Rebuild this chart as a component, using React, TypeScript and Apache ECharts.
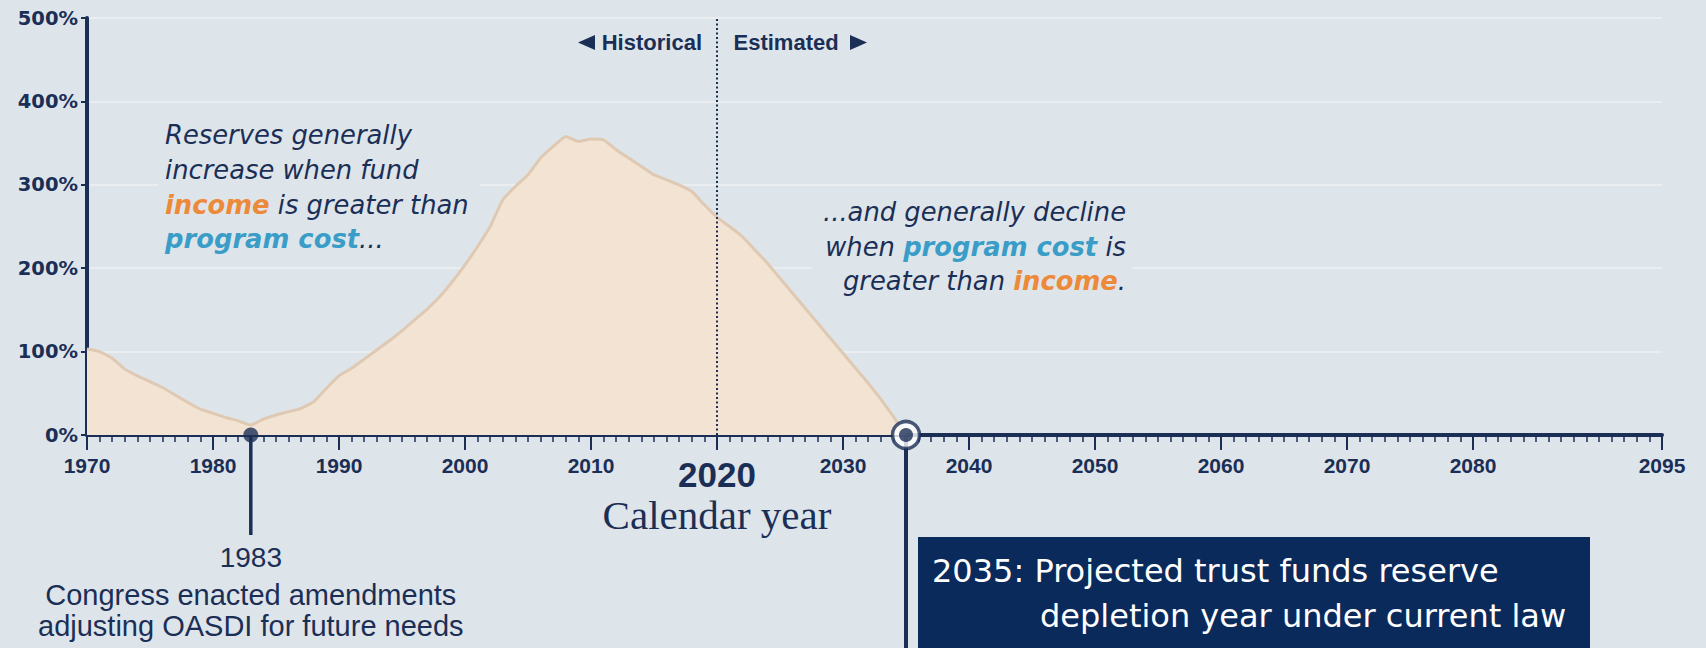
import { useEffect, useRef } from "react";
import * as echarts from "echarts";

// OASDI trust fund reserve ratio (reserves as % of annual program cost)
const years = [
  1970, 1971, 1972, 1973, 1974, 1975, 1976, 1977, 1978, 1979,
  1980, 1981, 1982, 1983, 1984, 1985, 1986, 1987, 1988, 1989,
  1990, 1991, 1992, 1993, 1994, 1995, 1996, 1997, 1998, 1999,
  2000, 2001, 2002, 2003, 2004, 2005, 2006, 2007, 2008, 2009,
  2010, 2011, 2012, 2013, 2014, 2015, 2016, 2017, 2018, 2019,
  2020, 2021, 2022, 2023, 2024, 2025, 2026, 2027, 2028, 2029,
  2030, 2031, 2032, 2033, 2034, 2035,
];
const reserveRatio = [
  103, 100, 92, 79, 71, 64, 57, 48, 39, 31,
  26, 21, 17, 12, 19, 24, 28, 32, 40, 56,
  71, 80, 91, 102, 113, 125, 138, 151, 166, 184,
  204, 226, 250, 282, 298, 312, 332, 346, 358, 352,
  355, 354, 342, 332, 322, 312, 306, 300, 292, 276,
  261, 250, 238, 222, 206, 188, 170, 152, 134, 116,
  98, 80, 62, 43, 22, 0,
];
const xLabelYears = [1970, 1980, 1990, 2000, 2010, 2020, 2030, 2040, 2050, 2060, 2070, 2080, 2095];
const yMin = 0;
const yMax = 500;
const yStep = 100;
const dividerYear = 2020;
const amendmentYear = 1983;
const depletionYear = 2035;

const BG = "#dee5ea";
const NAVY = "#1b2f56";
const BOX = "#0b2a5c";
const GRID = "#eaeef1";
const AREA = "#f2e3d3";
const AREA_LINE = "#dfc9b3";
const ORANGE = "#ec8a3a";
const BLUE = "#3a9dc8";
const SANS = "'Liberation Sans', Arial, Helvetica, sans-serif";
const WIDE = "'DejaVu Sans', Verdana, sans-serif";
const SERIF = "'Liberation Serif', 'Times New Roman', serif";
const NOTE_SIZE = 25.8;

export default function App() {
  const ref = useRef<HTMLDivElement>(null);

  useEffect(() => {
    document.body.style.margin = "0";
    document.body.style.background = BG;
    const chart = echarts.init(ref.current!, null, { renderer: "svg" });

    chart.setOption({
      animation: false,
      backgroundColor: BG,
      grid: { left: 87, right: 44, top: 18, bottom: 213, containLabel: false },
      xAxis: [
        {
          type: "value",
          min: 1970,
          max: 2095,
          position: "bottom",
          axisLine: { show: true, onZero: false, lineStyle: { color: NAVY, width: 4 } },
          axisTick: {
            show: true,
            customValues: xLabelYears,
            length: 15,
            lineStyle: { color: NAVY, width: 2 },
          },
          axisLabel: {
            customValues: xLabelYears,
            margin: 20,
            color: NAVY,
            fontFamily: SANS,
            fontSize: 21,
            fontWeight: "bold",
            formatter: (v: number) => (v === dividerYear ? "{big|" + v + "}" : String(v)),
            rich: {
              big: {
                fontSize: 35,
                fontWeight: "bold",
                fontFamily: SANS,
                color: NAVY,
                padding: [2, 0, 0, 0],
              },
            },
          },
          splitLine: { show: false },
        },
        {
          type: "value",
          min: 1970,
          max: 2095,
          interval: 1,
          position: "bottom",
          axisLine: { show: false },
          axisTick: { show: true, length: 7, lineStyle: { color: NAVY, width: 1.5 } },
          axisLabel: { show: false },
          splitLine: { show: false },
        },
      ],
      yAxis: {
        type: "value",
        min: yMin,
        max: yMax,
        interval: yStep,
        axisLine: { show: true, lineStyle: { color: NAVY, width: 4 } },
        axisTick: { show: true, length: 6, lineStyle: { color: NAVY, width: 2 } },
        axisLabel: {
          formatter: "{value}%",
          margin: 9,
          color: NAVY,
          fontFamily: WIDE,
          fontSize: 19.5,
          fontWeight: "bold",
        },
        splitLine: { show: true, lineStyle: { color: GRID, width: 2 } },
      },
      series: [
        {
          type: "line",
          data: years.map((y, i) => [y, reserveRatio[i]]),
          symbol: "none",
          smooth: 0.15,
          lineStyle: { color: AREA_LINE, width: 3 },
          areaStyle: { color: AREA, opacity: 1 },
          z: 2,
          markLine: {
            silent: true,
            symbol: ["none", "none"],
            label: { show: false },
            lineStyle: { color: NAVY, width: 2, type: [2, 2.5] },
            data: [[{ coord: [dividerYear, yMin] }, { coord: [dividerYear, yMax] }]],
          },
        },
        {
          type: "scatter",
          data: [[amendmentYear, 0]],
          symbolSize: 15,
          clip: false,
          itemStyle: { color: NAVY },
          z: 5,
        },
        {
          type: "scatter",
          data: [[depletionYear, 0]],
          symbolSize: 27,
          clip: false,
          itemStyle: { color: "#ffffff", borderColor: NAVY, borderWidth: 3.5 },
          z: 5,
        },
        {
          type: "scatter",
          data: [[depletionYear, 0]],
          symbolSize: 14,
          clip: false,
          itemStyle: { color: NAVY },
          z: 6,
        },
      ],
    });

    const px = (x: number, y: number) => chart.convertToPixel({ gridIndex: 0 }, [x, y]) as number[];
    const [xDiv] = px(dividerYear, 0);
    const [xAmend, yZero] = px(amendmentYear, 0);
    const [xDeplete] = px(depletionYear, 0);
    const H = 648;

    const txt = (
      x: number,
      y: number,
      text: string,
      o: { size: number; family: string; color?: string; weight?: string; italic?: boolean; align?: string; rich?: any }
    ) => ({
      type: "text",
      z: 10,
      x,
      y,
      style: {
        text,
        fill: o.color || NAVY,
        fontSize: o.size,
        fontFamily: o.family,
        fontWeight: o.weight || "normal",
        fontStyle: o.italic ? "italic" : "normal",
        align: o.align || "left",
        verticalAlign: "middle",
        rich: o.rich,
      },
    });

    const token = (fill: string, bold: boolean) => ({
      fontSize: NOTE_SIZE,
      fontFamily: WIDE,
      fontStyle: "italic",
      fontWeight: bold ? "bold" : "normal",
      fill,
    });
    const noteRich = {
      n: token(NAVY, false),
      inc: token(ORANGE, true),
      cost: token(BLUE, true),
    };
    const noteOpts = (align: string) => ({ size: NOTE_SIZE, family: WIDE, italic: true, align, rich: noteRich });

    const leftX = 165;
    const rightX = 1126;

    chart.setOption({
      graphic: [
        // keep grid lines from running through the two notes
        { type: "rect", z: 1, shape: { x: 158, y: 118, width: 322, height: 136 }, style: { fill: BG } },
        { type: "rect", z: 1, shape: { x: 812, y: 193, width: 320, height: 104 }, style: { fill: BG } },

        // Historical / Estimated markers
        txt(xDiv - 15, 42.5, "Historical", { size: 22, family: SANS, weight: "bold", align: "right" }),
        txt(xDiv + 16.5, 42.5, "Estimated", { size: 22, family: SANS, weight: "bold", align: "left" }),
        {
          type: "polygon",
          z: 10,
          shape: { points: [[xDiv - 139, 42.5], [xDiv - 122, 35], [xDiv - 122, 50]] },
          style: { fill: NAVY },
        },
        {
          type: "polygon",
          z: 10,
          shape: { points: [[xDiv + 133, 35], [xDiv + 133, 50], [xDiv + 150, 42.5]] },
          style: { fill: NAVY },
        },

        // left note
        txt(leftX, 134.5, "{n|Reserves generally}", noteOpts("left")),
        txt(leftX, 169.5, "{n|increase when fund}", noteOpts("left")),
        txt(leftX, 204.5, "{inc|income}{n| is greater than}", noteOpts("left")),
        txt(leftX, 238.5, "{cost|program cost}{n|...}", noteOpts("left")),

        // right note
        txt(rightX, 212, "{n|...and generally decline}", noteOpts("right")),
        txt(rightX, 246.5, "{n|when }{cost|program cost}{n| is}", noteOpts("right")),
        txt(rightX, 281, "{n|greater than }{inc|income}{n|.}", noteOpts("right")),

        // axis title
        txt(xDiv, 514.5, "Calendar year", { size: 41, family: SERIF, align: "center" }),

        // 1983 amendments
        {
          type: "line",
          z: 3,
          shape: { x1: xAmend, y1: yZero, x2: xAmend, y2: 535 },
          style: { stroke: NAVY, lineWidth: 3.5 },
        },
        txt(xAmend, 557, "1983", { size: 28, family: SANS, align: "center" }),
        txt(xAmend, 594.5, "Congress enacted amendments", { size: 29, family: SANS, align: "center" }),
        txt(xAmend, 625.5, "adjusting OASDI for future needs", { size: 29, family: SANS, align: "center" }),

        // 2035 depletion
        {
          type: "line",
          z: 3,
          shape: { x1: xDeplete, y1: yZero, x2: xDeplete, y2: H },
          style: { stroke: NAVY, lineWidth: 4 },
        },
        {
          type: "rect",
          z: 9,
          shape: { x: xDeplete + 12, y: 537, width: 672, height: H - 537 },
          style: { fill: BOX },
        },
        txt(xDeplete + 26, 570.5, "2035: Projected trust funds reserve", {
          size: 32,
          family: WIDE,
          color: "#ffffff",
        }),
        txt(xDeplete + 134, 615.5, "depletion year under current law", {
          size: 32,
          family: WIDE,
          color: "#ffffff",
        }),
      ],
    });

    return () => chart.dispose();
  }, []);

  return <div ref={ref} style={{ width: 1706, height: 648 }} />;
}
